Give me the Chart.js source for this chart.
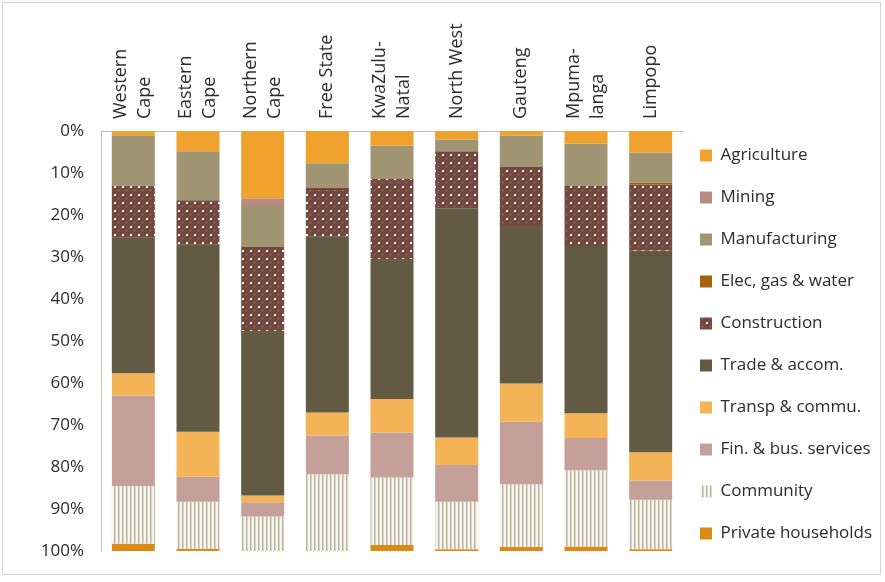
<!DOCTYPE html>
<html>
<head>
<meta charset="utf-8">
<script src="https://cdn.jsdelivr.net/npm/chart.js@4/dist/chart.umd.min.js"></script>
<style>
  html, body { margin: 0; padding: 0; background: #ffffff; }
  #wrap { position: relative; width: 885px; height: 582px; overflow: hidden; }
  #frame { position: absolute; left: 2px; top: 2px; width: 879px; height: 573px; border: 1px solid #d4d4d4; box-sizing: border-box; pointer-events: none; }
  canvas { position: absolute; left: 0; top: 0; }
</style>
</head>
<body>
<div id="wrap">
  <canvas id="chart" width="885" height="582"></canvas>
  <div id="frame"></div>
</div>
<script>
// Provinces (two-line labels where the name wraps)
const provinces = [
  ['Western', 'Cape'], ['Eastern', 'Cape'], ['Northern', 'Cape'], ['Free State'],
  ['KwaZulu-', 'Natal'], ['North West'], ['Gauteng'], ['Mpuma-', 'langa'], ['Limpopo']
];

// Share of employment by industry, % of each province
const agriculture   = [1.0, 4.8, 16.0, 7.7, 3.5, 2.0, 1.1, 3.0, 5.1];
const mining        = [0.0, 0.0, 1.6, 0.0, 0.0, 0.0, 0.0, 0.0, 0.0];
const manufacturing = [12.0, 11.7, 10.0, 5.9, 7.9, 2.8, 7.5, 10.1, 7.2];
const elecGasWater  = [0.0, 0.0, 0.0, 0.0, 0.0, 0.0, 0.0, 0.0, 0.5];
const construction  = [12.3, 10.6, 20.0, 11.6, 19.1, 13.6, 14.0, 14.3, 15.7];
const tradeAccom    = [32.4, 44.5, 39.2, 41.8, 33.3, 54.6, 37.5, 39.8, 48.0];
const transpCommu   = [5.3, 10.7, 1.6, 5.5, 8.0, 6.5, 9.1, 5.9, 6.7];
const finBus        = [21.5, 6.0, 3.4, 9.2, 10.7, 8.8, 14.9, 7.7, 4.6];
const community     = [13.8, 11.2, 8.2, 18.3, 16.1, 11.3, 14.9, 18.1, 11.8];
const privateHh     = [1.7, 0.5, 0.0, 0.0, 1.4, 0.4, 1.0, 1.1, 0.4];

// Axis tick values (percent)
const yTicks = [0, 10, 20, 30, 40, 50, 60, 70, 80, 90, 100];

const FONT = "'Open Sans', 'DejaVu Sans', sans-serif";
const TEXT = '#2b2b2b';

// Dotted fill for construction
function dotPattern() {
  const c = document.createElement('canvas');
  c.width = 8; c.height = 8;
  const g = c.getContext('2d');
  g.fillStyle = '#744A40';
  g.fillRect(0, 0, 8, 8);
  g.fillStyle = 'rgba(255,255,255,0.95)';
  g.fillRect(2, 2, 2, 2);
  g.fillStyle = 'rgba(255,255,255,0.45)';
  g.fillRect(6, 6, 1, 1);
  return g.createPattern(c, 'repeat');
}

// Vertical hatch for community services
function stripePattern() {
  const c = document.createElement('canvas');
  c.width = 4; c.height = 4;
  const g = c.getContext('2d');
  g.fillStyle = '#F6F4EE';
  g.fillRect(0, 0, 4, 4);
  g.fillStyle = '#BAB39D';
  g.fillRect(2, 0, 1, 4);
  g.fillStyle = '#DAD5C6';
  g.fillRect(3, 0, 1, 4);
  return g.createPattern(c, 'repeat');
}

const series = [
  { label: 'Agriculture',          data: agriculture,   color: '#F0A22E' },
  { label: 'Mining',               data: mining,        color: '#B98A80' },
  { label: 'Manufacturing',        data: manufacturing, color: '#A09472' },
  { label: 'Elec, gas & water',    data: elecGasWater,  color: '#A5620E' },
  { label: 'Construction',         data: construction,  color: dotPattern() },
  { label: 'Trade & accom.',       data: tradeAccom,    color: '#625A43' },
  { label: 'Transp & commu.',      data: transpCommu,   color: '#F4B356' },
  { label: 'Fin. & bus. services', data: finBus,        color: '#C4A098' },
  { label: 'Community',            data: community,     color: stripePattern() },
  { label: 'Private households',   data: privateHh,     color: '#DB8A16' }
];

// Rotated province names above the plot, centred on each category
const categoryLabels = {
  id: 'categoryLabels',
  afterDraw(chart) {
    const xs = chart.scales.x;
    const ctx = chart.ctx;
    const lineGap = 24;
    const baseY = 119;
    ctx.save();
    ctx.font = '18px ' + FONT;
    ctx.fillStyle = TEXT;
    ctx.textAlign = 'left';
    ctx.textBaseline = 'middle';
    chart.data.labels.forEach((lines, i) => {
      const cx = xs.getPixelForValue(i);
      lines.forEach((line, j) => {
        const x = cx + (j - (lines.length - 1) / 2) * lineGap;
        ctx.save();
        ctx.translate(x, baseY);
        ctx.rotate(-Math.PI / 2);
        ctx.fillText(line, 0, 0);
        ctx.restore();
      });
    });
    ctx.restore();
  }
};

// Keep the legend column a fixed width, next to the plot, level with its rows
const legendPlacement = {
  id: 'legendPlacement',
  beforeLayout(chart) {
    const lg = chart.legend;
    if (lg && !lg.__fixed) {
      const fit = lg.fit.bind(lg);
      lg.fit = function () { fit(); this.width = 202; };
      lg.__fixed = true;
    }
  },
  afterLayout(chart) {
    const lg = chart.legend;
    if (lg) {
      lg.left -= 8; lg.right -= 8;
      lg.top += 69; lg.bottom += 69;
    }
  }
};

new Chart(document.getElementById('chart'), {
  type: 'bar',
  data: {
    labels: provinces,
    datasets: series.map(s => ({
      label: s.label,
      data: s.data,
      backgroundColor: s.color,
      borderWidth: 0,
      categoryPercentage: 1.0,
      barPercentage: 0.665
    }))
  },
  options: {
    responsive: false,
    animation: false,
    devicePixelRatio: 1,
    layout: { padding: { top: 0, left: 0, right: 0, bottom: 31 } },
    scales: {
      x: {
        position: 'top',
        stacked: true,
        grid: { display: false, drawTicks: false },
        border: { display: true, color: '#bfbfbf', width: 1 },
        ticks: { display: false },
        afterFit(scale) { scale.height = 131; }
      },
      y: {
        stacked: true,
        reverse: true,
        min: 0,
        max: 100,
        afterBuildTicks(scale) { scale.ticks = yTicks.map(v => ({ value: v })); },
        grid: { display: false, drawTicks: false },
        border: { display: true, color: '#bfbfbf', width: 1 },
        ticks: {
          padding: 17,
          color: TEXT,
          font: { family: FONT, size: 17 },
          callback: v => v + '%'
        },
        afterFit(scale) { scale.width = 101; }
      }
    },
    plugins: {
      legend: {
        position: 'right',
        labels: {
          boxWidth: 12,
          boxHeight: 12,
          padding: 25,
          color: TEXT,
          font: { family: FONT, size: 17 }
        }
      },
      tooltip: { enabled: false }
    }
  },
  plugins: [categoryLabels, legendPlacement]
});
</script>
</body>
</html>
